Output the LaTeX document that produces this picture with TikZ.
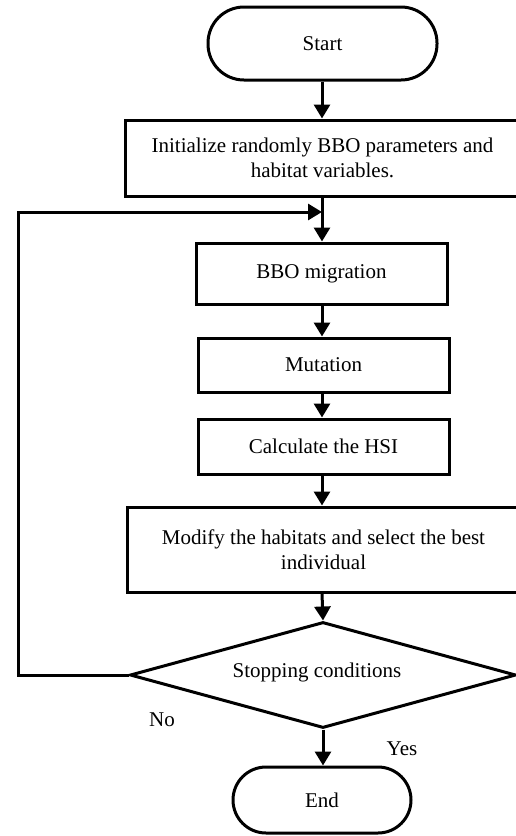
\documentclass[tikz,border=0pt]{standalone}
\usepackage{fontspec}
\setmainfont{Liberation Serif}
\usetikzlibrary{shapes.geometric,arrows.meta}
\begin{document}
\begin{tikzpicture}[x=1pt,y=-1pt,
  every node/.style={font=\fontsize{21}{25}\selectfont},
  box/.style={draw,line width=3pt,rectangle,inner sep=0pt,align=center},
  term/.style={draw,line width=3pt,rectangle,rounded corners=33pt,inner sep=0pt},
  dec/.style={draw,line width=3pt,diamond,aspect=3.64,inner sep=0pt,minimum width=386pt,minimum height=106pt},
  arr/.style={line width=3pt,-{Triangle[length=14pt,width=16pt]}},
  lbl/.style={inner sep=0pt}]
\useasboundingbox (0,0) rectangle (516,836);
\node[term,minimum width=229pt,minimum height=73pt,rounded corners=36pt] (start) at (322.5,43.5) {Start};
\node[box,minimum width=395pt,minimum height=76pt] (init) at (322.5,158) {Initialize randomly BBO parameters and\\habitat variables.};
\node[box,minimum width=251pt,minimum height=61pt] (bbo) at (321.5,273.5) {BBO migration};
\node[box,minimum width=251pt,minimum height=54pt] (mut) at (323.5,365) {Mutation};
\node[box,minimum width=251pt,minimum height=55pt] (hsi) at (323.5,446.5) {Calculate the HSI};
\node[box,minimum width=393pt,minimum height=85pt] (mod) at (323.5,549.5) {Modify the habitats and select the best\\individual};
\node[dec] (stop) at (323,675) {};
\node[lbl] (stoptxt) at (317,672) {Stopping conditions};
\node[term,minimum width=178pt,minimum height=66pt] (end) at (322,800) {End};
\node[lbl] (no) at (162,720) {No};
\node[lbl] (yes) at (402,749) {Yes};
\coordinate (j) at (322,212);
\coordinate (lc) at (18,675);
\draw[arr] (start.south -| j) -- (init.north -| j);
\draw[arr] (init.south -| j) -- (bbo.north -| j);
\draw[arr] (bbo.south -| j) -- (mut.north -| j);
\draw[arr] (mut.south -| j) -- (hsi.north -| j);
\draw[arr] (hsi.south -| j) -- (mod.north -| j);
\draw[arr] (mod.south -| j) -- (stop.north);
\draw[arr] (stop.south) -- (end.north -| stop.south);
\draw[arr,line join=miter] (stop.west) -- (lc) |- (j);
\end{tikzpicture}
\end{document}
